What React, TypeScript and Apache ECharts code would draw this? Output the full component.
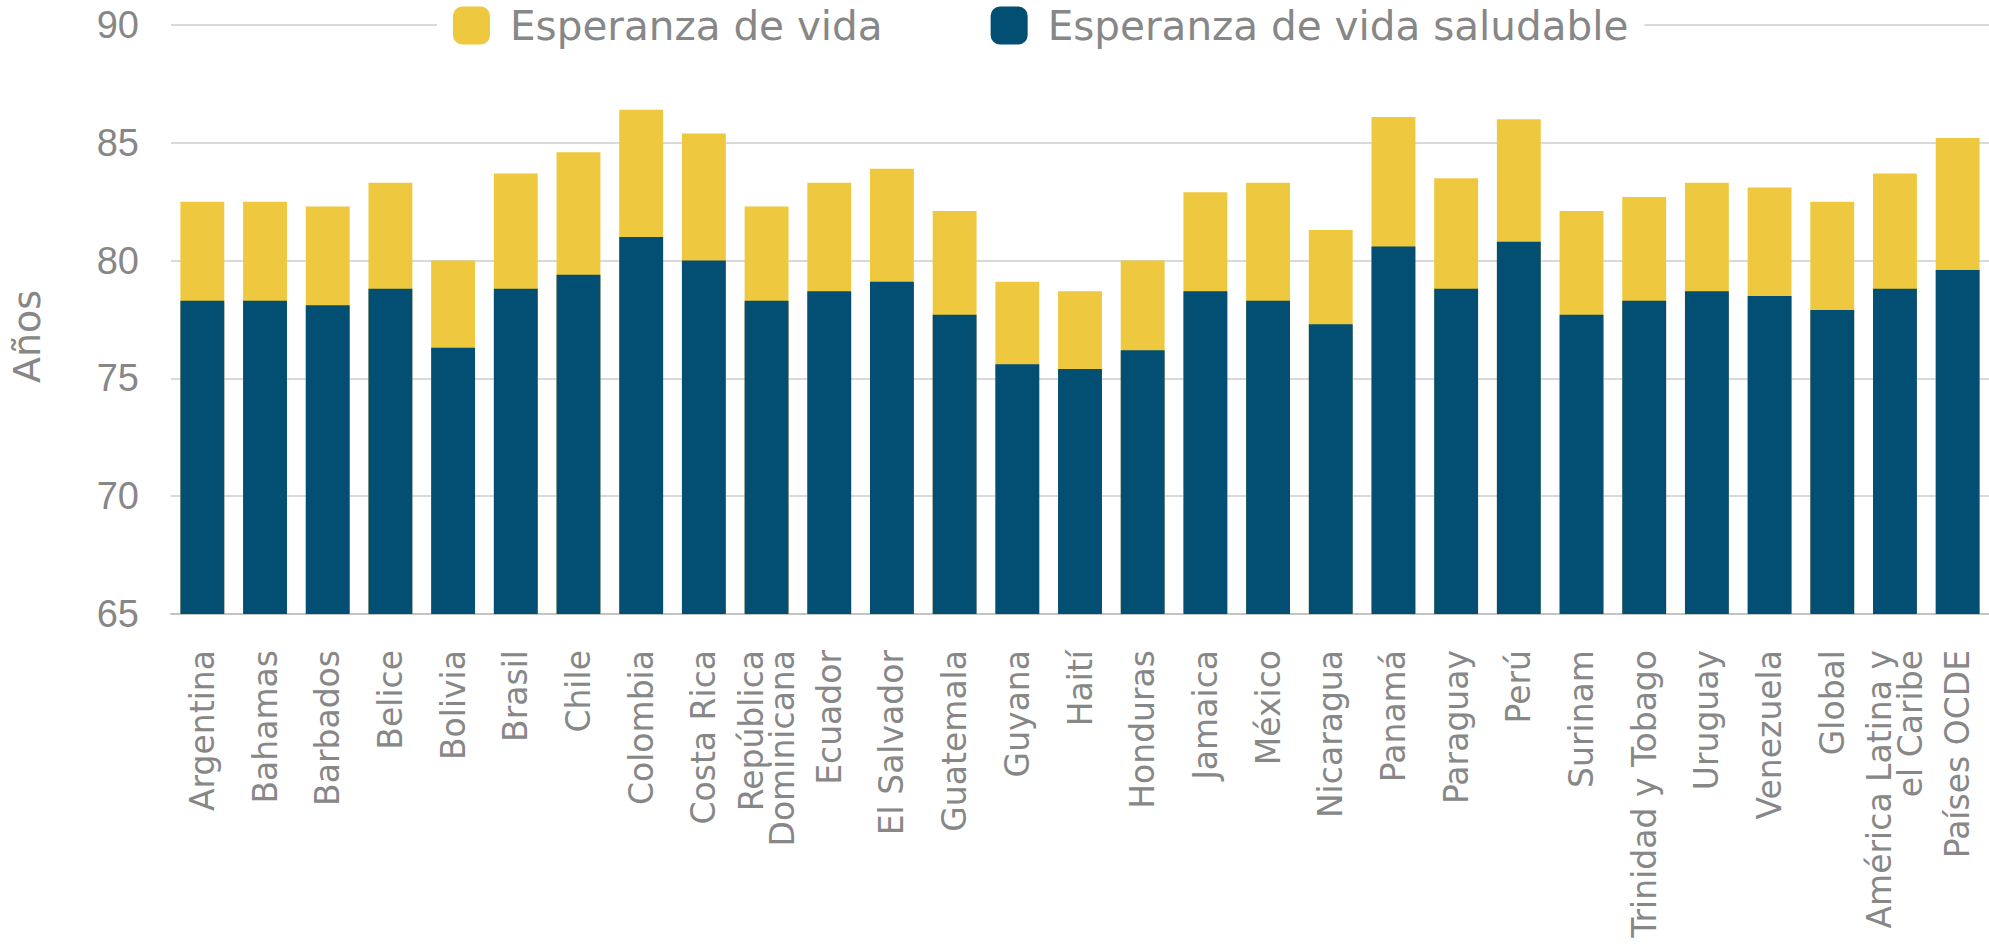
import React, { useEffect, useRef } from "react";
import * as echarts from "echarts";

const categories = [
  "Argentina", "Bahamas", "Barbados", "Belice", "Bolivia", "Brasil", "Chile", "Colombia",
  "Costa Rica", "República\nDominicana", "Ecuador", "El Salvador", "Guatemala", "Guyana",
  "Haití", "Honduras", "Jamaica", "México", "Nicaragua", "Panamá", "Paraguay", "Perú",
  "Surinam", "Trinidad y Tobago", "Uruguay", "Venezuela", "Global",
  "América Latina y\nel Caribe", "Países OCDE",
];

const esperanzaVida = [
  82.5, 82.5, 82.3, 83.3, 80.0, 83.7, 84.6, 86.4, 85.4, 82.3, 83.3, 83.9, 82.1, 79.1, 78.7,
  80.0, 82.9, 83.3, 81.3, 86.1, 83.5, 86.0, 82.1, 82.7, 83.3, 83.1, 82.5, 83.7, 85.2,
];

const esperanzaSaludable = [
  78.3, 78.3, 78.1, 78.8, 76.3, 78.8, 79.4, 81.0, 80.0, 78.3, 78.7, 79.1, 77.7, 75.6, 75.4,
  76.2, 78.7, 78.3, 77.3, 80.6, 78.8, 80.8, 77.7, 78.3, 78.7, 78.5, 77.9, 78.8, 79.6,
];

const seriesNames = ["Esperanza de vida", "Esperanza de vida saludable"];
const yTicks = { min: 65, max: 90, interval: 5 };

const GRAY = "#878787";

export default function App() {
  const ref = useRef<HTMLDivElement>(null);
  useEffect(() => {
    if (!ref.current) return;
    const chart = echarts.init(ref.current, null, { renderer: "svg" });
    chart.setOption({
      animation: false,
      backgroundColor: "#ffffff",
      legend: {
        left: 437,
        top: 0,
        padding: [5, 16, 5, 16],
        backgroundColor: "#ffffff",
        itemWidth: 37,
        itemHeight: 38,
        itemGap: 108,
        icon: "roundRect",
        data: seriesNames,
        textStyle: {
          fontFamily: "DejaVu Sans",
          fontSize: 40.5,
          color: GRAY,
          padding: [0, 0, 0, 15],
        },
      },
      grid: { left: 158, right: 0, top: 25, bottom: 338, containLabel: false },
      xAxis: {
        type: "category",
        data: categories,
        axisTick: { show: false },
        axisLine: { lineStyle: { color: "#c4c4c4", width: 2 } },
        axisLabel: {
          rotate: 90,
          interval: 0,
          margin: 36,
          fontFamily: "DejaVu Sans",
          fontSize: 33,
          color: GRAY,
          lineHeight: 31,
        },
      },
      yAxis: {
        type: "value",
        min: yTicks.min,
        max: yTicks.max,
        interval: yTicks.interval,
        name: "Años",
        nameLocation: "middle",
        nameRotate: 90,
        nameGap: 125,
        nameTextStyle: {
          fontFamily: "DejaVu Sans",
          fontSize: 38,
          color: GRAY,
          padding: [0, 34, 0, 0],
        },
        axisLine: { show: false },
        axisTick: { show: false },
        axisLabel: {
          margin: 32,
          fontFamily: "Liberation Sans",
          fontSize: 38,
          color: GRAY,
        },
        splitLine: { lineStyle: { color: "#d9d9d9", width: 2 } },
      },
      series: [
        {
          name: seriesNames[0],
          type: "bar",
          data: esperanzaVida,
          barWidth: "70%",
          barGap: "-100%",
          itemStyle: { color: "#EEC93F" },
        },
        {
          name: seriesNames[1],
          type: "bar",
          data: esperanzaSaludable,
          barWidth: "70%",
          barGap: "-100%",
          itemStyle: { color: "#034E73" },
        },
      ],
    });
    return () => chart.dispose();
  }, []);
  return (
    <div
      ref={ref}
      style={{ position: "absolute", left: 0, top: 0, width: 1989, height: 952 }}
    />
  );
}
